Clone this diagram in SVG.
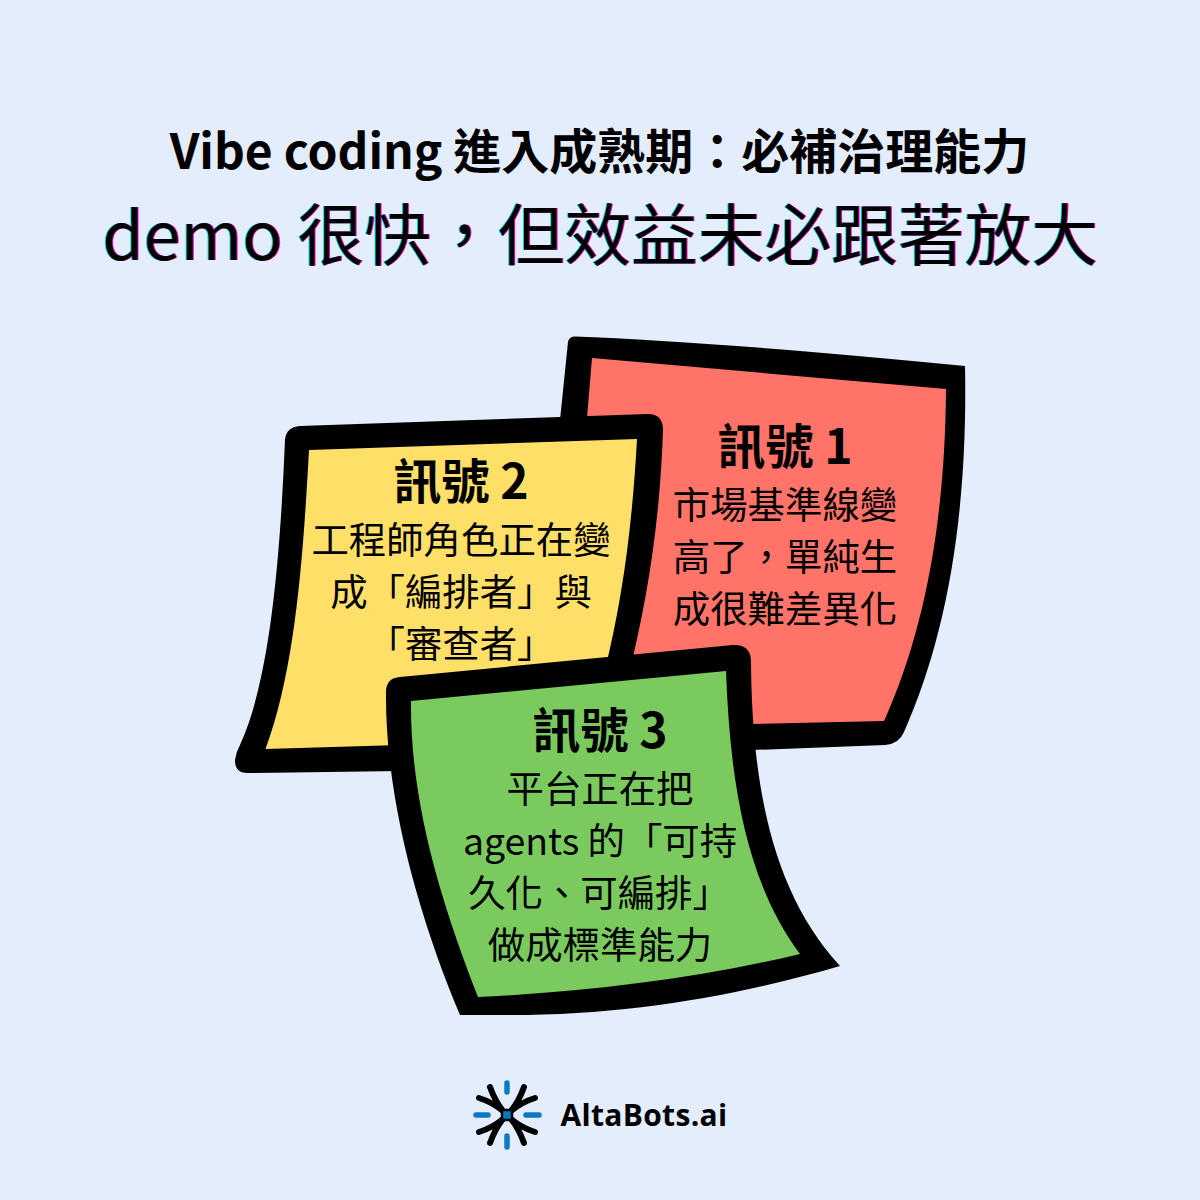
<svg xmlns="http://www.w3.org/2000/svg" width="1200" height="1200" viewBox="0 0 1200 1200">
<defs>
<filter id="fringe" x="-2%" y="-5%" width="104%" height="110%" color-interpolation-filters="sRGB">
<feFlood flood-color="#00e0e0" result="c"/>
<feOffset in="SourceAlpha" dx="-1" result="ca"/>
<feComposite in="c" in2="ca" operator="in" result="cy"/>
<feFlood flood-color="#f000d0" result="m"/>
<feOffset in="SourceAlpha" dx="1" result="ma"/>
<feComposite in="m" in2="ma" operator="in" result="mg"/>
<feMerge><feMergeNode in="cy"/><feMergeNode in="mg"/><feMergeNode in="SourceGraphic"/></feMerge>
</filter>
</defs>
<style>
text{font-family:"Noto Sans CJK TC","Noto Sans CJK SC",sans-serif;fill:#000;text-anchor:middle}
.t1{font-size:48px;font-weight:700}
.t2{font-size:66.7px;font-weight:400;filter:url(#fringe)}
.h{font-size:48px;font-weight:700}
.b{font-size:37.4px;font-weight:400}
.o{fill:#000}
.arm{fill:none;stroke:#000;stroke-width:6;stroke-linecap:round}
.bar{fill:none;stroke:#0b78c4;stroke-width:5.5;stroke-linecap:round}
</style>
<rect width="1200" height="1200" fill="#e3edfc"/>
<g id="title">
<text class="t1" x="599.5" y="169">Vibe coding 進入成熟期：必補治理能力</text>
<text class="t2" x="600" y="260">demo 很快，但效益未必跟著放大</text>
</g>
<g id="note1">
<path class="o" d="M574 336.500 Q720 342 965 366 C968 520 945 640 904 732 Q899 744 885 745 L700 752 L560 700 L560 420 L568 342 Q569 337 574 336.500Z"/>
<path fill="#ff7369" d="M592 358 L946 389 C945 520 925 630 884 721 L620 727 L586 430Z"/>
<text class="h" x="785" y="464">訊號 1</text>
<text class="b" x="785" y="519">市場基準線變</text>
<text class="b" x="785" y="571">高了，單純生</text>
<text class="b" x="785" y="623">成很難差異化</text>
</g>
<g id="note2">
<path class="o" d="M300 426 L648 414 Q663 414 663 430 C660 520 648 600 625 690 L400 771 L247 773 Q235 773 235 760 Q236 752 240 745 C270 680 280 560 285 440 Q286 427 300 426Z"/>
<path fill="#fedf68" d="M309 450 L637 439 C632 530 622 600 605 670 L400 745 L265.500 749 C295 670 303 560 309 450Z"/>
<text class="h" x="461" y="499">訊號 2</text>
<text class="b" x="461" y="554">工程師角色正在變</text>
<text class="b" x="461" y="606">成「編排者」與</text>
<text class="b" x="461" y="658">「審查者」</text>
</g>
<g id="note3">
<path class="o" d="M400 677 L733 645 Q751 644 751 662 C752 780 770 890 840 966 C740 995 630 1015 510 1015 L460 1015 C420 920 385 800 386 692 Q386 678 400 677Z"/>
<path fill="#7aca5e" d="M411 701 L726 671 C730 780 745 880 800 954 C700 978 590 992 478 997 C440 900 410 800 411 701Z"/>
<text class="h" x="600" y="748">訊號 3</text>
<text class="b" x="600" y="803">平台正在把</text>
<text class="b" x="600" y="855">agents 的「可持</text>
<text class="b" x="599" y="907">久化、可編排」</text>
<text class="b" x="600" y="959">做成標準能力</text>
</g>
<g id="logo">
<path class="arm" d="M490 1087 Q495 1101 503 1111M479 1098 Q492 1102 503 1111M524 1087 Q519 1101 511 1111M535 1098 Q522 1102 511 1111M490 1143 Q495 1129 503 1119M479 1132 Q492 1128 503 1119M524 1143 Q519 1129 511 1119M535 1132 Q522 1128 511 1119"/>
<path class="bar" d="M507 1083V1092M507 1136V1147M476 1115H488M526 1115H539"/>
<rect x="502" y="1110" width="10" height="10" fill="#0b78c4" stroke="#000" stroke-width="2.500"/>
<text x="644" y="1126" style="font-family:'Open Sans',sans-serif;font-size:30px;font-weight:700;letter-spacing:.3px">AltaBots.ai</text>
</g>
</svg>
